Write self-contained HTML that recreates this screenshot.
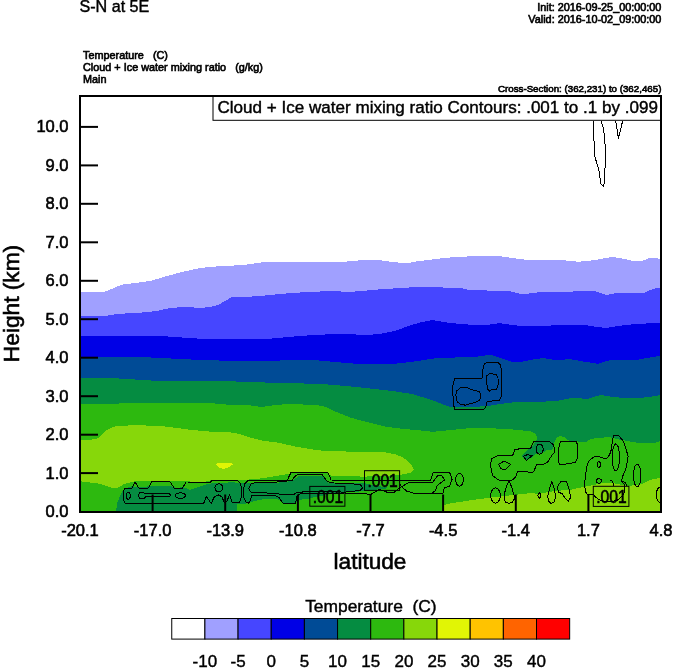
<!DOCTYPE html>
<html><head><meta charset="utf-8"><title>S-N at 5E</title>
<style>
html,body{margin:0;padding:0;background:#fff;}
body{width:674px;height:668px;overflow:hidden;}
svg{display:block;}
text{font-family:"Liberation Sans",Arial,Helvetica,sans-serif;fill:#000;}
.h{stroke:#000;stroke-width:.6px;}
.s{stroke:#000;stroke-width:.42px;}
.t{stroke:#000;stroke-width:.62px;}
</style></head><body>
<svg width="674" height="668" viewBox="0 0 674 668">
<rect width="674" height="668" fill="#ffffff"/>
<defs>
<clipPath id="plot"><rect x="80.0" y="96.0" width="581.0" height="416.0"/></clipPath>
<clipPath id="lb"><rect x="309.8" y="486.4" width="35.1" height="19.8"/><rect x="364.5" y="470.7" width="35.1" height="19.7"/><rect x="593.3" y="486.3" width="35.6" height="20.1"/></clipPath>
<g id="fills" shape-rendering="crispEdges">
<polygon fill="#a0a0ff" points="80.0,292.5 100.0,292.2 106.0,291.3 113.0,288.3 118.0,286.3 122.3,284.6 138.3,282.6 150.8,280.8 160.0,278.2 168.6,275.5 182.8,271.9 196.0,268.8 208.0,267.0 221.0,266.2 244.0,265.0 254.0,263.5 264.0,262.0 300.0,262.0 344.0,261.8 358.0,260.5 369.0,260.0 382.0,260.5 389.0,261.5 394.0,262.0 400.0,262.8 410.0,262.8 415.7,261.6 424.0,260.5 430.0,259.8 437.0,258.8 455.0,257.0 474.5,256.2 499.5,256.2 512.0,258.0 524.5,259.5 551.0,259.5 566.0,260.5 578.5,261.8 596.0,260.0 605.0,258.0 613.5,257.0 622.0,258.5 631.0,260.5 643.5,260.5 647.0,259.0 651.0,257.5 655.0,257.5 661.0,259.5 661.0,512.0 80.0,512.0"/>
<polygon fill="#4646ff" points="80.0,316.4 108.0,315.5 118.7,313.8 138.3,312.9 156.1,311.1 168.6,308.4 179.3,307.2 190.0,307.2 201.0,308.0 212.0,306.5 218.5,305.0 224.0,301.5 231.0,297.5 244.0,297.0 260.0,296.0 281.5,293.8 306.5,292.0 333.0,291.0 344.0,291.7 362.0,291.4 366.0,290.6 378.3,289.5 396.0,288.3 414.0,287.2 437.0,287.4 459.0,287.8 465.0,289.0 470.0,290.1 487.0,290.5 507.0,290.5 515.0,292.5 522.0,294.5 532.0,293.0 542.0,292.0 551.0,292.5 580.0,291.2 593.5,290.8 600.0,293.0 606.0,295.0 614.0,293.5 623.5,292.5 643.5,293.0 650.0,290.0 656.0,288.0 661.0,288.0 661.0,512.0 80.0,512.0"/>
<polygon fill="#0000e6" points="80.0,336.2 163.5,336.2 201.0,338.8 244.0,339.5 269.0,338.8 288.0,337.0 306.5,335.5 325.0,334.5 344.0,333.8 356.0,334.5 369.0,335.0 382.0,333.5 394.0,331.2 403.0,328.0 412.0,324.8 422.0,322.0 432.0,320.0 441.0,321.5 449.5,323.0 468.0,324.5 487.0,325.0 499.5,323.2 512.0,325.0 524.5,326.2 543.5,326.2 562.0,324.5 581.0,324.5 594.0,326.5 606.0,328.0 618.0,326.0 631.0,324.5 646.0,323.5 661.0,322.5 661.0,512.0 80.0,512.0"/>
<polygon fill="#004b96" points="80.0,357.0 151.0,357.5 201.0,360.0 244.0,361.2 280.0,360.5 314.0,360.0 335.0,362.0 356.5,363.8 394.0,363.8 412.0,361.8 424.0,360.0 437.0,358.0 455.0,357.5 474.5,357.0 482.0,356.0 489.5,354.5 500.0,358.0 512.0,362.0 520.0,362.0 530.0,360.0 543.5,358.0 552.0,359.5 561.0,360.5 568.5,358.8 583.0,361.5 598.5,363.8 605.0,361.5 611.0,360.0 636.0,360.0 650.0,357.5 661.0,355.5 661.0,512.0 80.0,512.0"/>
<polygon fill="#058c41" points="80.0,377.5 113.5,378.2 151.0,380.5 201.0,381.2 211.0,380.5 244.0,381.8 280.0,383.0 319.0,383.8 340.0,385.5 356.5,387.0 375.0,389.0 394.0,391.2 412.0,394.0 422.0,397.0 432.0,400.0 442.0,404.0 452.0,407.5 470.0,407.0 487.0,406.2 500.0,404.0 512.0,402.5 536.0,401.8 556.0,401.2 564.0,399.5 571.0,398.0 588.5,398.8 595.0,396.5 601.0,395.0 610.0,396.5 618.5,397.5 643.5,397.5 652.0,396.5 661.0,395.0 661.0,512.0 80.0,512.0"/>
<polygon fill="#2db90f" points="80.0,404.4 113.5,403.6 151.0,403.0 176.0,403.0 201.0,403.3 215.0,403.5 231.0,405.0 244.0,404.5 254.0,406.0 261.5,407.0 272.0,405.5 281.5,404.5 300.0,404.3 319.0,405.5 326.0,407.0 334.4,411.2 343.0,414.5 351.6,418.0 368.8,422.4 386.0,426.7 403.3,428.9 416.0,430.0 433.2,431.8 450.4,430.1 467.6,428.4 493.5,428.4 510.7,429.3 530.6,431.2 536.3,434.3 537.0,439.0 535.8,441.6 532.6,445.8 527.5,449.9 521.2,456.2 526.4,460.3 532.6,457.2 535.8,454.1 543.0,452.5 546.2,450.4 552.4,449.4 553.4,445.8 553.9,443.2 556.5,438.0 559.7,435.9 564.8,437.5 569.0,440.6 585.4,442.2 589.0,440.0 592.3,438.7 609.5,437.0 619.8,439.6 636.0,442.5 650.0,443.2 656.0,442.5 661.0,441.0 661.0,512.0 80.0,512.0"/>
<polygon fill="#87d70a" points="80.0,439.9 92.0,439.6 98.4,438.2 102.0,434.5 107.0,430.0 111.0,427.8 115.6,426.4 132.8,425.2 158.6,425.8 179.3,428.2 192.0,430.0 209.2,431.5 226.4,432.0 235.0,433.0 243.6,435.3 252.0,438.0 260.8,440.4 278.0,442.7 295.3,446.5 308.0,448.6 317.2,450.3 335.0,451.3 351.6,451.6 377.5,451.6 386.0,452.5 394.7,454.2 401.0,456.5 406.7,460.2 411.0,464.5 413.6,468.8 413.6,469.7 410.2,473.0 399.8,474.9 380.0,476.2 363.7,476.6 331.0,475.7 327.5,473.1 300.0,472.0 291.5,473.2 281.2,475.2 265.6,477.8 252.3,479.4 231.5,480.2 211.5,480.2 206.0,481.5 200.4,481.8 190.0,481.5 170.0,481.0 152.0,480.8 134.4,481.3 127.6,483.0 124.5,483.9 120.8,486.0 117.5,488.0 113.9,488.6 107.0,486.0 98.4,483.5 80.0,481.2"/>
<polygon fill="#058c41" points="116.0,511.5 117.0,503.7 119.5,497.4 122.6,491.2 127.0,488.0 132.0,486.2 140.7,487.5 153.1,485.6 169.4,485.6 176.8,488.1 183.0,487.0 190.0,489.8 196.0,488.0 200.4,486.2 205.0,484.8 210.8,483.5 220.0,482.8 231.5,482.4 252.0,483.0 260.8,483.0 270.8,483.0 286.3,482.0 293.6,480.0 298.8,475.7 322.4,475.7 328.4,482.6 363.7,483.0 372.0,485.0 390.0,488.0 372.0,490.0 363.7,491.2 345.0,492.5 330.0,494.0 315.0,497.0 308.0,499.0 299.8,499.7 295.7,502.8 283.2,502.8 279.0,499.7 270.8,498.6 260.4,499.7 250.0,502.2 243.0,504.3 237.2,504.3 237.2,511.5"/>
<polygon fill="#87d70a" points="443.5,511.5 444.5,505.0 450.4,503.3 476.2,499.5 493.5,497.2 515.8,494.7 532.0,493.0 537.2,493.8 554.4,491.2 571.6,489.5 588.8,486.0 606.0,482.6 615.0,483.5 623.3,485.2 629.0,485.9 640.9,484.4 649.9,479.9 661.0,477.6 661.0,511.5"/>
<polygon fill="#e1f505" points="216.0,464.5 217.6,463.0 231.5,463.0 233.1,464.5 228.0,467.5 223.3,469.0 220.0,468.0 217.5,466.0"/>
</g>
</defs>
<g clip-path="url(#plot)"><use href="#fills"/>
<g fill="none" stroke="#000" stroke-width="1" stroke-linejoin="round" shape-rendering="crispEdges">
<polyline points="593.8,121.0 593.8,136.1 594.6,155.9 598.7,169.1 600.9,183.9 603.2,186.4 604.8,182.3 605.3,147.7 603.7,129.5 600.9,121.0"/>
<polyline points="615.7,121.0 618.5,138.6 622.6,121.0"/>
<polygon points="454.7,378.3 482.0,378.3 482.9,369.6 484.4,363.8 487.3,362.3 497.5,362.3 500.4,364.7 501.4,369.6 501.4,395.9 499.5,400.7 487.3,401.2 485.9,406.6 483.9,409.3 454.7,409.3 453.3,403.6 452.6,386.1"/>
<polygon points="456.7,391.0 460.6,387.6 466.4,387.1 471.3,389.5 479.0,391.5 480.5,393.9 480.0,399.7 477.1,401.7 465.4,405.1 460.6,404.6 457.2,401.7 455.7,394.9"/>
<polygon points="486.8,375.9 489.7,373.5 496.1,374.5 498.0,378.3 498.3,384.2 496.6,389.0 493.6,390.0 491.7,389.5 489.7,391.5 487.3,388.6 486.6,380.3"/>
<polygon points="124.5,488.7 132.0,488.1 135.1,482.2 138.8,488.1 148.2,488.1 151.9,481.8 170.0,481.8 174.3,488.1 182.4,488.1 186.2,482.0 210.6,482.2 211.8,480.3 236.8,480.2 239.9,482.5 241.7,488.7 241.1,497.4 239.3,502.7 232.4,503.0 229.7,494.9 226.8,501.2 225.3,503.4 224.3,502.4 221.8,496.8 218.7,494.9 214.3,496.8 211.2,503.4 206.2,496.2 203.7,503.4 125.1,503.4 123.2,499.3 123.0,493.7"/>
<polygon points="130.3,495.8 130.2,496.9 129.9,497.9 129.4,498.6 128.8,499.1 128.2,499.3 127.6,499.1 127.0,498.6 126.5,497.9 126.2,496.9 126.1,495.8 126.2,494.7 126.5,493.7 127.0,493.0 127.6,492.5 128.2,492.3 128.8,492.5 129.4,493.0 129.9,493.7 130.2,494.7"/>
<polygon points="138.5,495.6 139.5,493.0 141.9,492.2 144.3,493.0 145.5,494.0 169.0,493.7 170.6,495.2 169.0,496.8 145.5,497.0 144.3,498.2 141.9,499.0 139.5,498.2"/>
<polygon points="185.5,495.6 185.2,496.4 184.5,497.2 183.4,497.8 181.9,498.2 180.3,498.3 178.7,498.2 177.2,497.8 176.1,497.2 175.4,496.4 175.1,495.6 175.4,494.8 176.1,494.0 177.2,493.4 178.7,493.0 180.3,492.9 181.9,493.0 183.4,493.4 184.5,494.0 185.2,494.8"/>
<polygon points="222.9,487.8 222.7,489.0 222.1,490.2 221.3,491.0 220.1,491.6 218.9,491.8 217.7,491.6 216.5,491.0 215.7,490.2 215.1,489.0 214.9,487.8 215.1,486.6 215.7,485.4 216.5,484.6 217.7,484.0 218.9,483.8 220.1,484.0 221.3,484.6 222.1,485.4 222.7,486.6"/>
<polyline points="399.8,484.3 402.0,487.0 406.7,491.2 416.0,493.8 442.7,493.8 444.4,487.8 449.6,486.1 452.1,479.2 449.6,472.3 433.2,472.3 430.6,480.0 416.0,480.0 399.8,480.9 363.7,480.5 331.0,480.0 329.5,476.0 327.5,472.3 320.0,472.1 291.0,472.4 288.9,476.8 287.4,480.4 248.0,480.6 244.9,483.7 243.0,491.2 243.6,497.4 246.1,502.4 248.6,503.4 250.5,499.9 251.7,495.6 276.0,496.0 279.1,497.6 281.2,500.7 283.2,503.3 295.7,503.3 296.5,496.5 300.0,493.8 344.8,493.0 363.7,493.8 370.9,494.3 379.2,489.5 389.5,493.0 394.7,492.0 399.8,487.8 408.4,482.6 416.0,483.0 432.4,482.6 437.5,475.7 441.8,475.4 444.4,480.0 437.5,485.2 434.9,491.2 431.5,493.3"/>
<polygon points="248.6,488.7 251.7,483.1 281.2,481.8 292.0,480.4 294.1,477.3 296.7,475.0 320.0,474.2 322.4,474.9 327.5,481.8 334.4,483.0 360.2,484.3 362.8,487.8 360.2,490.4 344.8,492.1 309.4,491.3 296.7,492.6 293.1,494.8 281.2,495.0 278.0,493.4 251.1,492.4"/>
<polygon points="463.3,479.7 463.1,481.7 462.6,483.5 461.7,485.0 460.7,485.9 459.5,486.2 458.3,485.9 457.3,485.0 456.4,483.5 455.9,481.7 455.7,479.7 455.9,477.7 456.4,475.9 457.3,474.4 458.3,473.5 459.5,473.2 460.7,473.5 461.7,474.4 462.6,475.9 463.1,477.7"/>
<polygon points="491.7,458.5 496.9,455.9 512.4,455.9 515.0,449.6 521.0,448.6 530.6,448.4 533.7,441.6 549.3,441.4 553.9,445.2 554.3,452.5 551.3,456.2 548.2,461.3 545.1,463.9 536.3,465.0 534.2,470.7 532.7,472.2 517.6,471.6 515.8,476.6 512.4,480.0 498.6,480.0 492.6,475.7 490.4,465.4"/>
<polygon points="498.6,464.5 503.8,461.1 510.7,464.5 505.5,469.7 501.2,468.8"/>
<polygon points="543.2,449.1 543.0,450.6 542.5,452.0 541.7,453.1 540.7,453.9 539.6,454.1 538.5,453.9 537.5,453.1 536.7,452.0 536.2,450.6 536.0,449.1 536.2,447.6 536.7,446.2 537.5,445.1 538.5,444.3 539.6,444.1 540.7,444.3 541.7,445.1 542.5,446.2 543.0,447.6"/>
<polygon points="523.3,456.2 527.5,454.6 532.1,455.6 526.4,460.3"/>
<polygon points="500.3,495.5 500.1,497.9 499.4,500.0 498.3,501.7 497.0,502.8 495.5,503.2 494.0,502.8 492.7,501.7 491.6,500.0 490.9,497.9 490.7,495.5 490.9,493.1 491.6,491.0 492.7,489.3 494.0,488.2 495.5,487.8 497.0,488.2 498.3,489.3 499.4,491.0 500.1,493.1"/>
<polygon points="509.0,480.3 506.0,488.0 504.0,495.0 504.0,499.5 506.0,502.5 509.0,503.3 512.0,502.5 514.0,499.5 514.0,495.0 512.0,488.0"/>
<polygon points="560.7,441.6 576.3,441.4 577.8,445.8 577.8,457.2 575.2,462.4 568.0,463.6 559.7,465.0 558.1,460.3 558.4,449.9 559.9,443.7"/>
<polygon points="540.7,495.5 540.6,496.3 540.4,497.0 540.1,497.6 539.7,498.0 539.3,498.1 538.9,498.0 538.5,497.6 538.2,497.0 538.0,496.3 537.9,495.5 538.0,494.7 538.2,494.0 538.5,493.4 538.9,493.0 539.3,492.9 539.7,493.0 540.1,493.4 540.4,494.0 540.6,494.7"/>
<polygon points="551.8,481.8 549.5,489.0 547.8,496.0 548.3,501.0 551.0,503.3 554.0,502.0 555.5,497.0 554.5,489.0"/>
<polygon points="558.7,484.3 561.3,481.2 566.5,481.8 569.1,489.5 570.8,497.2 568.2,501.5 565.1,498.1 562.2,493.8 558.7,492.1 557.5,487.8"/>
<polyline points="624.1,484.3 625.0,487.5 624.5,492.0 622.0,496.5 617.0,500.3 610.0,501.8 603.0,501.5 598.0,499.0 594.5,496.0 593.7,494.7 588.0,494.7 586.3,493.8 584.5,486.0 585.4,475.7 587.1,465.4 588.8,461.1 594.0,456.8 599.2,456.8 606.0,458.9 609.5,455.1 611.2,449.9 612.6,439.6 613.8,435.3 619.0,435.8 623.3,441.3 625.9,448.2 628.1,456.8 625.9,468.8 622.9,475.7 621.5,480.9 624.1,484.3"/>
<polyline points="622.6,481.5 625.5,482.5 626.8,486.0"/>
<polyline points="609.5,479.9 612.5,481.4 614.0,485.9"/>
<polygon points="619.5,457.5 619.3,461.7 618.8,465.5 618.0,468.5 616.9,470.4 615.8,471.1 614.7,470.4 613.6,468.5 612.8,465.5 612.3,461.7 612.1,457.5 612.3,453.3 612.8,449.5 613.6,446.5 614.7,444.6 615.8,443.9 616.9,444.6 618.0,446.5 618.8,449.5 619.3,453.3"/>
<polygon points="600.4,464.5 600.3,465.5 600.1,466.4 599.7,467.1 599.3,467.5 598.8,467.7 598.3,467.5 597.9,467.1 597.5,466.4 597.3,465.5 597.2,464.5 597.3,463.5 597.5,462.6 597.9,461.9 598.3,461.5 598.8,461.3 599.3,461.5 599.7,461.9 600.1,462.6 600.3,463.5"/>
<polygon points="601.6,480.9 601.5,481.6 601.1,482.2 600.4,482.7 599.7,483.0 598.8,483.1 597.9,483.0 597.2,482.7 596.5,482.2 596.1,481.6 596.0,480.9 596.1,480.2 596.5,479.6 597.2,479.1 597.9,478.8 598.8,478.7 599.7,478.8 600.4,479.1 601.1,479.6 601.5,480.2"/>
<polygon points="640.9,475.4 640.7,478.9 640.2,482.0 639.4,484.5 638.3,486.1 637.2,486.6 636.1,486.1 635.0,484.5 634.2,482.0 633.7,478.9 633.5,475.4 633.7,471.9 634.2,468.8 635.0,466.3 636.1,464.7 637.2,464.2 638.3,464.7 639.4,466.3 640.2,468.8 640.7,471.9"/>
<polygon points="663.7,494.9 663.5,497.2 663.0,499.3 662.2,501.0 661.1,502.0 660.0,502.4 658.9,502.0 657.8,501.0 657.0,499.3 656.5,497.2 656.3,494.9 656.5,492.6 657.0,490.5 657.8,488.8 658.9,487.8 660.0,487.4 661.1,487.8 662.2,488.8 663.0,490.5 663.5,492.6"/>
</g>
<rect x="309.8" y="486.4" width="35.1" height="19.8" fill="none" stroke="#000" stroke-width="1"/>
<text class="h" x="312.7" y="502.5" font-size="17.6" textLength="30.4" lengthAdjust="spacingAndGlyphs">.001</text>
<rect x="364.5" y="470.7" width="35.1" height="19.7" fill="none" stroke="#000" stroke-width="1"/>
<text class="h" x="367.4" y="486.7" font-size="17.6" textLength="30.4" lengthAdjust="spacingAndGlyphs">.001</text>
<rect x="593.3" y="486.3" width="35.6" height="20.1" fill="none" stroke="#000" stroke-width="1"/>
<text class="h" x="596.2" y="502.7" font-size="17.6" textLength="30.4" lengthAdjust="spacingAndGlyphs">.001</text>
</g>
<rect x="213" y="96" width="448" height="24.3" fill="#fff" stroke="#000" stroke-width="1"/>
<text class="s" x="217.5" y="112.8" font-size="17.2" textLength="440.5" lengthAdjust="spacingAndGlyphs">Cloud + Ice water mixing ratio Contours: .001 to .1 by .099</text>
<g stroke="#000" stroke-width="2" fill="none">
<line x1="152.6" y1="494.5" x2="152.6" y2="512.0"/>
<line x1="225.2" y1="494.5" x2="225.2" y2="512.0"/>
<line x1="297.9" y1="494.5" x2="297.9" y2="512.0"/>
<line x1="370.5" y1="494.5" x2="370.5" y2="512.0"/>
<line x1="443.1" y1="494.5" x2="443.1" y2="512.0"/>
<line x1="515.8" y1="494.5" x2="515.8" y2="512.0"/>
<line x1="588.4" y1="494.5" x2="588.4" y2="512.0"/>
<line x1="80.0" y1="473.1" x2="98" y2="473.1"/>
<line x1="80.0" y1="434.7" x2="98" y2="434.7"/>
<line x1="80.0" y1="396.2" x2="98" y2="396.2"/>
<line x1="80.0" y1="357.7" x2="98" y2="357.7"/>
<line x1="80.0" y1="319.2" x2="98" y2="319.2"/>
<line x1="80.0" y1="280.8" x2="98" y2="280.8"/>
<line x1="80.0" y1="242.3" x2="98" y2="242.3"/>
<line x1="80.0" y1="203.8" x2="98" y2="203.8"/>
<line x1="80.0" y1="165.4" x2="98" y2="165.4"/>
<line x1="80.0" y1="126.9" x2="98" y2="126.9"/>
<rect x="80.0" y="96.0" width="581.0" height="416.0"/>
</g>
<text class="h" x="68.5" y="517.1" font-size="16.5" text-anchor="end">0.0</text>
<text class="h" x="68.5" y="478.6" font-size="16.5" text-anchor="end">1.0</text>
<text class="h" x="68.5" y="440.2" font-size="16.5" text-anchor="end">2.0</text>
<text class="h" x="68.5" y="401.7" font-size="16.5" text-anchor="end">3.0</text>
<text class="h" x="68.5" y="363.2" font-size="16.5" text-anchor="end">4.0</text>
<text class="h" x="68.5" y="324.8" font-size="16.5" text-anchor="end">5.0</text>
<text class="h" x="68.5" y="286.3" font-size="16.5" text-anchor="end">6.0</text>
<text class="h" x="68.5" y="247.8" font-size="16.5" text-anchor="end">7.0</text>
<text class="h" x="68.5" y="209.3" font-size="16.5" text-anchor="end">8.0</text>
<text class="h" x="68.5" y="170.9" font-size="16.5" text-anchor="end">9.0</text>
<text class="h" x="68.5" y="132.4" font-size="16.5" text-anchor="end">10.0</text>
<text class="h" x="80.0" y="536.4" font-size="16.5" text-anchor="middle">-20.1</text>
<text class="h" x="152.6" y="536.4" font-size="16.5" text-anchor="middle">-17.0</text>
<text class="h" x="225.2" y="536.4" font-size="16.5" text-anchor="middle">-13.9</text>
<text class="h" x="297.9" y="536.4" font-size="16.5" text-anchor="middle">-10.8</text>
<text class="h" x="370.5" y="536.4" font-size="16.5" text-anchor="middle">-7.7</text>
<text class="h" x="443.1" y="536.4" font-size="16.5" text-anchor="middle">-4.5</text>
<text class="h" x="515.8" y="536.4" font-size="16.5" text-anchor="middle">-1.4</text>
<text class="h" x="588.4" y="536.4" font-size="16.5" text-anchor="middle">1.7</text>
<text class="h" x="661.0" y="536.4" font-size="16.5" text-anchor="middle">4.8</text>
<text class="h" x="370" y="569.2" font-size="22.6" text-anchor="middle">latitude</text>
<text class="h" transform="translate(18.9,303.5) rotate(-90)" font-size="22.7" text-anchor="middle">Height (km)</text>
<text class="s" x="79.4" y="12.4" font-size="16.15">S-N at 5E</text>
<text class="t" x="661.4" y="11.1" font-size="10.85" text-anchor="end">Init: 2016-09-25_00:00:00</text>
<text class="t" x="661.4" y="23.1" font-size="10.85" text-anchor="end">Valid: 2016-10-02_09:00:00</text>
<text class="t" x="83" y="59.3" font-size="10.85" xml:space="preserve">Temperature   (C)</text>
<text class="t" x="83" y="71.2" font-size="10.85" xml:space="preserve">Cloud + Ice water mixing ratio   (g/kg)</text>
<text class="t" x="83" y="83.2" font-size="10.85">Main</text>
<text class="t" x="661.4" y="91.5" font-size="9.74" text-anchor="end">Cross-Section: (362,231) to (362,465)</text>
<text class="s" x="370.9" y="612.3" font-size="17.4" text-anchor="middle" xml:space="preserve">Temperature  (C)</text>
<rect x="171.75" y="618.5" width="33.16" height="20.6" fill="#ffffff" stroke="#000" stroke-width="1"/>
<rect x="204.91" y="618.5" width="33.16" height="20.6" fill="#a0a0ff" stroke="#000" stroke-width="1"/>
<rect x="238.07" y="618.5" width="33.16" height="20.6" fill="#4646ff" stroke="#000" stroke-width="1"/>
<rect x="271.23" y="618.5" width="33.16" height="20.6" fill="#0000e6" stroke="#000" stroke-width="1"/>
<rect x="304.39" y="618.5" width="33.16" height="20.6" fill="#004b96" stroke="#000" stroke-width="1"/>
<rect x="337.55" y="618.5" width="33.16" height="20.6" fill="#058c41" stroke="#000" stroke-width="1"/>
<rect x="370.71" y="618.5" width="33.16" height="20.6" fill="#2db90f" stroke="#000" stroke-width="1"/>
<rect x="403.87" y="618.5" width="33.16" height="20.6" fill="#87d70a" stroke="#000" stroke-width="1"/>
<rect x="437.03" y="618.5" width="33.16" height="20.6" fill="#e1f505" stroke="#000" stroke-width="1"/>
<rect x="470.19" y="618.5" width="33.16" height="20.6" fill="#ffc300" stroke="#000" stroke-width="1"/>
<rect x="503.35" y="618.5" width="33.16" height="20.6" fill="#ff6400" stroke="#000" stroke-width="1"/>
<rect x="536.51" y="618.5" width="33.16" height="20.6" fill="#ff0000" stroke="#000" stroke-width="1"/>
<text class="s" x="204.9" y="666.5" font-size="17" text-anchor="middle">-10</text>
<text class="s" x="238.1" y="666.5" font-size="17" text-anchor="middle">-5</text>
<text class="s" x="271.2" y="666.5" font-size="17" text-anchor="middle">0</text>
<text class="s" x="304.4" y="666.5" font-size="17" text-anchor="middle">5</text>
<text class="s" x="337.5" y="666.5" font-size="17" text-anchor="middle">10</text>
<text class="s" x="370.7" y="666.5" font-size="17" text-anchor="middle">15</text>
<text class="s" x="403.9" y="666.5" font-size="17" text-anchor="middle">20</text>
<text class="s" x="437.0" y="666.5" font-size="17" text-anchor="middle">25</text>
<text class="s" x="470.2" y="666.5" font-size="17" text-anchor="middle">30</text>
<text class="s" x="503.3" y="666.5" font-size="17" text-anchor="middle">35</text>
<text class="s" x="536.5" y="666.5" font-size="17" text-anchor="middle">40</text>
</svg>
</body></html>
